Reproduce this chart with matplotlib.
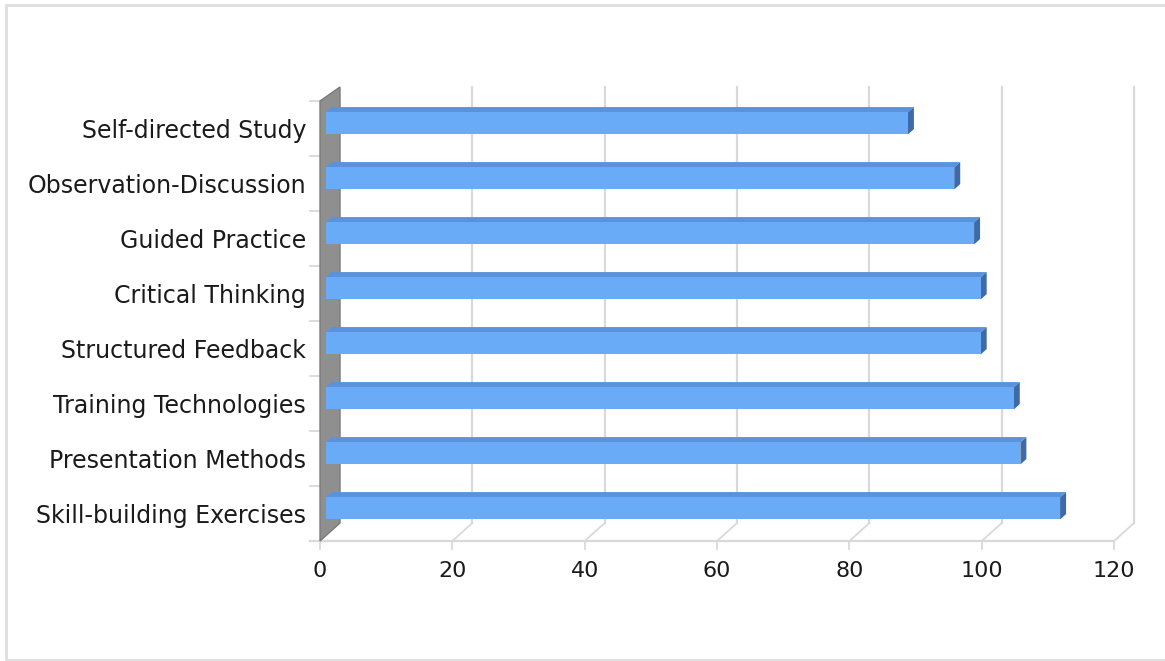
import matplotlib
matplotlib.use("Agg")
import matplotlib.pyplot as plt
from matplotlib.patches import Polygon, Rectangle

# data, bottom to top
categories = ["Skill-building Exercises", "Presentation Methods", "Training Technologies",
              "Structured Feedback", "Critical Thinking", "Guided Practice",
              "Observation-Discussion", "Self-directed Study"]
values = [111, 105, 104, 99, 99, 98, 95, 88]
xticks = [0, 20, 40, 60, 80, 100, 120]

W, H = 1165, 661
PX = 6.617          # pixels per value unit
BAND = 55.0         # pixels per category
X0_PX = 320         # pixel of value 0 on the front plane
C0_PX = 513.5       # pixel (from top) of first category centre

fig = plt.figure(figsize=(W / 100, H / 100), dpi=100)
ax = fig.add_axes([0, 0, 1, 1])
ax.set_xlim(-X0_PX / PX, (W - X0_PX) / PX)
ax.set_ylim((C0_PX - H) / BAND, C0_PX / BAND)
ax.axis("off")

DX = 20 / PX        # depth offset in x
DY = 18 / BAND      # depth offset in y
n = len(categories)
y_bot = -0.5
y_top = n - 0.5
y_top_back = y_top + 14 / BAND

# outer border
fig.patches.append(Rectangle((6 / W, 1 / H), (W + 4) / W, (H - 6) / H, transform=fig.transFigure,
                             fill=False, edgecolor="#dedede", linewidth=2))

# back plane gridlines
grid_c = "#d9d9d9"
for t in xticks[1:]:
    ax.plot([t + DX, t + DX], [y_bot + DY, y_top_back], color=grid_c, lw=1.6, zorder=1)
    ax.plot([t, t + DX], [y_bot, y_bot + DY], color=grid_c, lw=1.3, zorder=1)

# floor front edge and ticks
ax.plot([-10 / PX, xticks[-1]], [y_bot, y_bot], color=grid_c, lw=1.6, zorder=1)
for t in xticks:
    ax.plot([t, t], [y_bot, y_bot - 8 / BAND], color=grid_c, lw=1.3, zorder=1)
    ax.text(t, y_bot - 30 / BAND, str(t), ha="center", va="center",
            fontsize=16, color="#1a1a1a", family="DejaVu Sans")

# left wall
wall = Polygon([(0, y_bot), (DX, y_bot + DY), (DX, y_top_back), (0, y_top)],
               closed=True, facecolor="#8f8f8f", edgecolor="#7a7a7a", lw=1, zorder=2)
ax.add_patch(wall)
for k in range(n + 1):
    yy = y_bot + k
    ax.plot([-10 / PX, 0], [yy, yy], color=grid_c, lw=1.3, zorder=1)

# bars
h = 0.40
d0 = 0.28
t_d = 0.30
front_c = "#6aabf7"
top_c = "#5a93dc"
side_c = "#3d6aa8"
for i, v in enumerate(values):
    x0 = d0 * DX
    x1 = v + d0 * DX
    yb = i - h / 2 + d0 * DY
    yt = i + h / 2 + d0 * DY
    ox, oy = t_d * DX, t_d * DY
    ax.add_patch(Polygon([(x0, yt), (x1, yt), (x1 + ox, yt + oy), (x0 + ox, yt + oy)],
                         closed=True, facecolor=top_c, edgecolor="none", zorder=3))
    ax.add_patch(Polygon([(x1, yb), (x1 + ox, yb + oy), (x1 + ox, yt + oy), (x1, yt)],
                         closed=True, facecolor=side_c, edgecolor="none", zorder=3))
    ax.add_patch(Rectangle((x0, yb), v, h, facecolor=front_c, edgecolor="none", zorder=4))
    ax.text(-14 / PX, i - 0.04, categories[i], ha="right", va="center",
            fontsize=17, color="#1a1a1a", family="DejaVu Sans")

fig.savefig("out.png", dpi=100)
